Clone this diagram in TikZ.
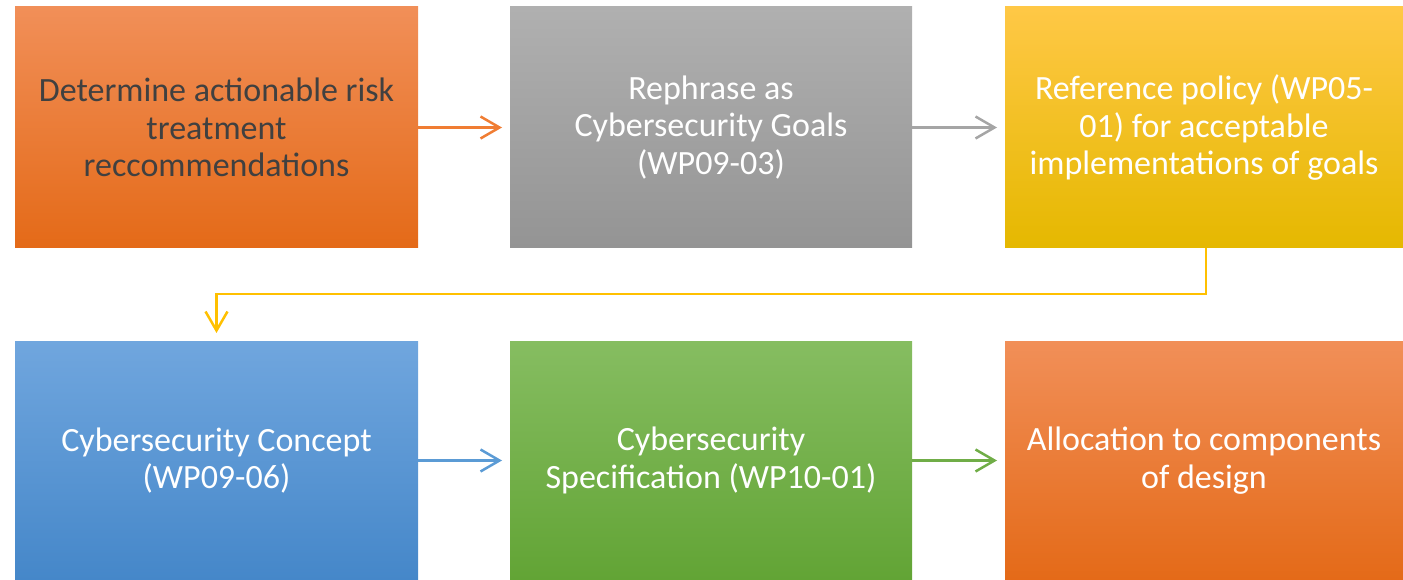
\documentclass[tikz,border=0pt]{standalone}
\usepackage{fontspec}
\setmainfont{Carlito}
\usetikzlibrary{arrows.meta}
\definecolor{orT}{HTML}{F18F58}
\definecolor{orM}{HTML}{F47C2C}
\definecolor{orB}{HTML}{E46A18}
\definecolor{grT}{HTML}{B0B0B0}
\definecolor{grM}{HTML}{A3A3A3}
\definecolor{grB}{HTML}{949494}
\definecolor{yeT}{HTML}{FFC846}
\definecolor{yeM}{HTML}{FFC000}
\definecolor{yeB}{HTML}{E5B800}
\definecolor{blT}{HTML}{70A6DE}
\definecolor{blM}{HTML}{5B9BD5}
\definecolor{blB}{HTML}{4587C9}
\definecolor{gnT}{HTML}{86BD61}
\definecolor{gnM}{HTML}{70AD47}
\definecolor{gnB}{HTML}{62A435}
\definecolor{txtdark}{HTML}{404040}
\definecolor{arOr}{HTML}{F07D33}
\definecolor{arGr}{HTML}{A5A5A5}
\definecolor{arYe}{HTML}{FFC000}
\definecolor{arBl}{HTML}{5B9BD5}
\definecolor{arGn}{HTML}{70AD47}
\tikzset{
  box/.style={rectangle, inner sep=0pt, align=center, text=white,
    font=\fontsize{34}{37.5}\selectfont, minimum width=403pt, minimum height=241pt},
  orangebox/.style={box, top color=orT, middle color=orM, bottom color=orB},
  graybox/.style={box, top color=grT, middle color=grM, bottom color=grB},
  yellowbox/.style={box, top color=yeT, middle color=yeM, bottom color=yeB},
  bluebox/.style={box, top color=blT, middle color=blM, bottom color=blB},
  greenbox/.style={box, top color=gnT, middle color=gnM, bottom color=gnB},
  conn/.style={line width=2.5pt, -{Straight Barb[length=19pt,width=22pt,line width=2.5pt]}}
}
\begin{document}
\begin{tikzpicture}[x=1pt,y=-1pt]
\useasboundingbox (0,0) rectangle (1403,580);
\node[orangebox, text=txtdark] (b1) at (216.5,127.5) {Determine actionable risk\\treatment\\reccommendations};
\node[graybox, minimum width=402pt] (b2) at (711,127.5) {Rephrase as\\Cybersecurity Goals\\(WP09-03)};
\node[yellowbox, minimum width=398pt] (b3) at (1204,127.5) {Reference policy (WP05-\\01) for acceptable\\implementations of goals};
\node[bluebox, minimum height=239pt] (b4) at (216.5,460.5) {Cybersecurity Concept\\(WP09-06)};
\node[greenbox, minimum width=402pt, minimum height=239pt] (b5) at (711,460.5) {Cybersecurity\\Specification (WP10-01)};
\node[orangebox, minimum width=398pt, minimum height=239pt] (b6) at (1204,460.5) {Allocation to components\\of design};
\coordinate (t1) at (502,127.5);
\coordinate (t2) at (997,127.5);
\coordinate (t4) at (502,460.5);
\coordinate (t5) at (997,460.5);
\draw[conn, arOr] (b1.east) -- (t1);
\draw[conn, arGr] (b2.east) -- (t2);
\draw[conn, arBl] (b4.east) -- (t4);
\draw[conn, arGn] (b5.east) -- (t5);
\coordinate (y1) at (1206,294);
\coordinate (y2) at (216.5,294);
\coordinate (y3) at (216.5,333);
\draw[conn, arYe] (b3.south -| y1) -- (y1) -- (y2) -- (y3);
\end{tikzpicture}
\end{document}
